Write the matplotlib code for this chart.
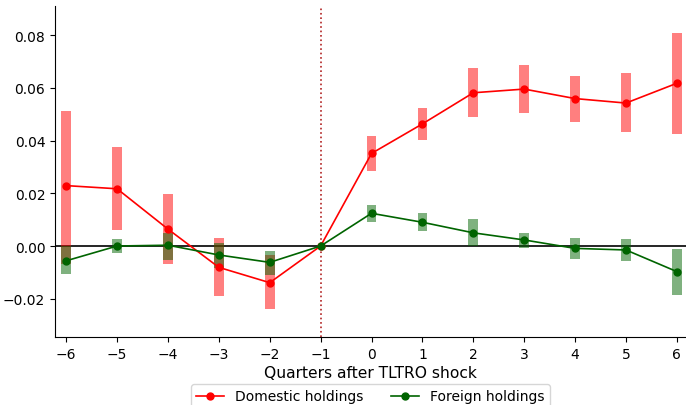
import matplotlib
matplotlib.use("Agg")
import matplotlib.pyplot as plt
import numpy as np

quarters = [-6, -5, -4, -3, -2, -1, 0, 1, 2, 3, 4, 5, 6]

dom_est = [0.0229, 0.0217, 0.0064, -0.0081, -0.0139, 0.0, 0.0351, 0.0463, 0.0581, 0.0595, 0.0559, 0.0542, 0.0617]
dom_lo = [-0.0068, 0.0059, -0.0068, -0.0189, -0.0240, 0.0, 0.0284, 0.0402, 0.0490, 0.0505, 0.0471, 0.0431, 0.0425]
dom_hi = [0.0511, 0.0377, 0.0197, 0.0029, -0.0034, 0.0, 0.0418, 0.0523, 0.0674, 0.0686, 0.0645, 0.0655, 0.0808]

for_est = [-0.0056, 0.0000, 0.0003, -0.0034, -0.0062, 0.0, 0.0124, 0.0090, 0.0050, 0.0023, -0.0009, -0.0015, -0.0097]
for_lo = [-0.0106, -0.0028, -0.0053, -0.0085, -0.0109, 0.0, 0.0090, 0.0058, 0.0001, -0.0006, -0.0049, -0.0058, -0.0185]
for_hi = [0.0000, 0.0028, 0.0049, 0.0011, -0.0018, 0.0, 0.0155, 0.0124, 0.0102, 0.0049, 0.0030, 0.0027, -0.0010]

x = np.array(quarters)
fig = plt.figure(figsize=(6.86, 4.06), dpi=100)
ax = fig.add_axes([55/686, (406-338)/406, (686-55)/686, (338-7)/406])

bw = 0.19
mask = x != -1
ax.bar(x[mask], (np.array(dom_hi) - np.array(dom_lo))[mask], bottom=np.array(dom_lo)[mask],
       width=bw, color='red', alpha=0.5, linewidth=0, zorder=2)
ax.bar(x[mask], (np.array(for_hi) - np.array(for_lo))[mask], bottom=np.array(for_lo)[mask],
       width=bw, color='darkgreen', alpha=0.5, linewidth=0, zorder=2)

ax.axhline(0, color='black', linewidth=1.2, zorder=1)
ax.axvline(-1, color='firebrick', linestyle=':', linewidth=1.2, zorder=1)

ax.plot(x, dom_est, color='red', marker='o', markersize=5, linewidth=1.2, label='Domestic holdings', zorder=3)
ax.plot(x, for_est, color='darkgreen', marker='o', markersize=5, linewidth=1.2, label='Foreign holdings', zorder=3)

ax.set_xlim(-6.22, 6.18)
ax.set_ylim(-0.0345, 0.091)
ax.set_xticks(quarters)
ax.set_yticks([-0.02, 0.0, 0.02, 0.04, 0.06, 0.08])
ax.set_yticklabels(['\u22120.02', '0.00', '0.02', '0.04', '0.06', '0.08'])
ax.tick_params(labelsize=10)
ax.spines['top'].set_visible(False)
ax.spines['right'].set_visible(False)
ax.set_xlabel('Quarters after TLTRO shock', fontsize=11.2, labelpad=3)

fig.legend(loc='upper center', bbox_to_anchor=(370.5/686, 1 - 378/406), ncol=2, fontsize=10,
           frameon=True)

fig.savefig('out.png', dpi=100)
